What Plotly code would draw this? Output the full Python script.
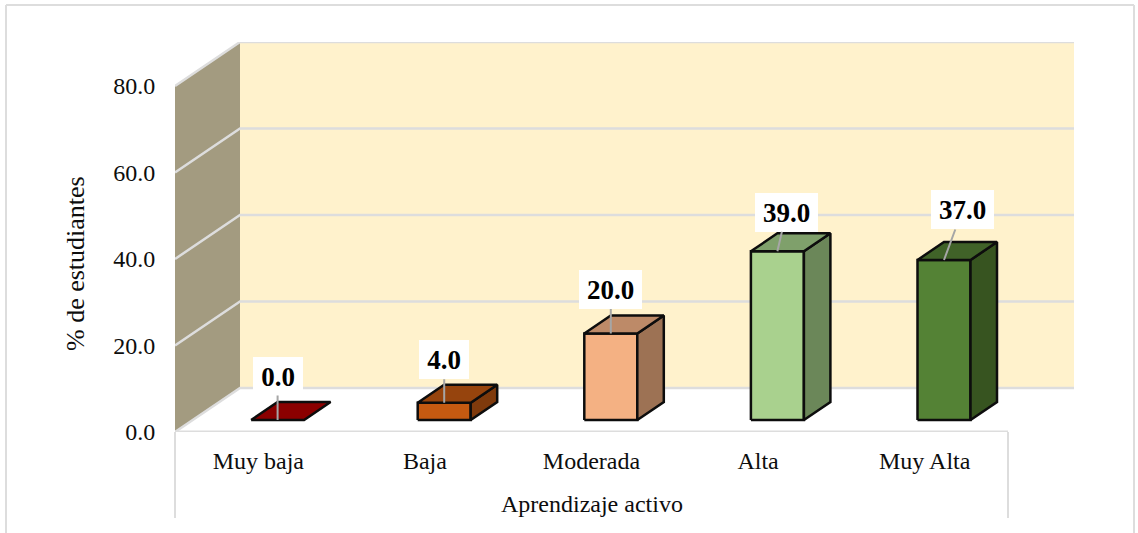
import plotly.graph_objects as go

categories = ["Muy baja", "Baja", "Moderada", "Alta", "Muy Alta"]
values = [0.0, 4.0, 20.0, 39.0, 37.0]
y_ticks = [0, 20, 40, 60, 80]
y_tick_labels = ["0.0", "20.0", "40.0", "60.0", "80.0"]

front_colors = ["#8B0000", "#C55A11", "#F4B183", "#A9D18E", "#548235"]
top_colors = ["#8B0000", "#96440D", "#BD8A68", "#7FA06B", "#406228"]
side_colors = ["#6B0000", "#7F3A0C", "#9D7254", "#6B8759", "#375420"]

label_offsets = [(0, -44), (0, -43), (0, -44), (9, -39), (18.5, -50)]

FIG_W, FIG_H = 1138, 533
LEFT, RIGHT, TOP, FLOOR = 175, 1074, 42, 432
CAT_PX = 166.6
VAL_PX = 4.325
WALL_DX, WALL_DY = 65, 44
BAR_W = 53
BAR_DX, BAR_DY = 26.5, 18
BAR_SHIFT_X, BAR_SHIFT_Y = 19.3, 12
INK = "#0D0D0D"
GRID = "#DDDDDD"
TEXT = "#0D0D0D"
SERIF = "Liberation Serif"


def px(dx):
    return dx / CAT_PX


def vu(dy):
    return dy / VAL_PX


def poly(xs, ys, fill, line=None, width=0):
    return go.Scatter(
        x=xs + xs[:1], y=ys + ys[:1], mode="lines", fill="toself", fillcolor=fill,
        line=dict(color=line or fill, width=width), hoverinfo="skip",
        showlegend=False, cliponaxis=False,
    )


def seg(xs, ys, color=GRID, width=2.5):
    return go.Scatter(
        x=xs, y=ys, mode="lines", line=dict(color=color, width=width),
        hoverinfo="skip", showlegend=False, cliponaxis=False,
    )


n = len(categories)
wall_x, wall_y = px(WALL_DX), vu(WALL_DY)
top_val = y_ticks[-1]
x_end = (RIGHT - LEFT) / CAT_PX
fig = go.Figure()

# side wall and back wall
fig.add_trace(poly([0, wall_x, wall_x, 0], [0, wall_y, top_val + wall_y, top_val], "#A39B80"))
fig.add_trace(poly([wall_x, x_end, x_end, wall_x],
                   [wall_y, wall_y, top_val + wall_y, top_val + wall_y], "#FFF2CC"))
# gridlines on both walls, floor edges
for t in y_ticks:
    fig.add_trace(seg([0, wall_x, x_end], [t, t + wall_y, t + wall_y]))
fig.add_trace(seg([0, n], [0, 0], width=3))

# bars
sx, sy = px(BAR_SHIFT_X), vu(BAR_SHIFT_Y)
bw, bdx, bdy = px(BAR_W), px(BAR_DX), vu(BAR_DY)
anchors = []
for i, v in enumerate(values):
    cx = i + 0.5 + sx
    x0, x1 = cx - bw / 2, cx + bw / 2
    y0, y1 = sy, sy + v
    if v > 0:
        fig.add_trace(poly([x0, x1, x1, x0], [y0, y0, y1, y1], front_colors[i], INK, 2.5))
        fig.add_trace(poly([x1, x1 + bdx, x1 + bdx, x1], [y0, y0 + bdy, y1 + bdy, y1],
                           side_colors[i], INK, 2.5))
    fig.add_trace(poly([x0, x1, x1 + bdx, x0 + bdx], [y1, y1, y1 + bdy, y1 + bdy],
                       top_colors[i], INK, 2.5))
    anchors.append((cx, y1))


def pxp(x):
    return (x - LEFT) / (RIGHT - LEFT)


def pyp(y):
    return (FLOOR - y) / (FLOOR - TOP)


annotations = []
for (cx, y1), v, (ax, ay) in zip(anchors, values, label_offsets):
    annotations.append(dict(
        x=cx, y=y1, xref="x", yref="y", text=f"<b>{v:.1f}</b>", showarrow=True,
        arrowhead=0, arrowcolor="#A6A6A6", arrowwidth=2, ax=ax, ay=ay, standoff=0,
        width=63 if v >= 10 else 50, height=39, bgcolor="#FFFFFF", borderpad=0, borderwidth=0,
        font=dict(family=SERIF, size=27, color="#000000"),
    ))
annotations.append(dict(x=n / 2, xref="x", y=pyp(504), yref="paper", text="Aprendizaje activo",
                        showarrow=False, xanchor="center", yanchor="middle",
                        font=dict(family=SERIF, size=24, color=TEXT)))
annotations.append(dict(x=pxp(75), xref="paper", y=pyp(264), yref="paper",
                        text="% de estudiantes", textangle=-90, showarrow=False,
                        xanchor="center", yanchor="middle",
                        font=dict(family=SERIF, size=26, color=TEXT)))


def line_shape(x0, y0, x1, y1):
    return dict(type="line", xref="paper", yref="paper", x0=pxp(x0), y0=pyp(y0),
                x1=pxp(x1), y1=pyp(y1), line=dict(color=GRID, width=2), layer="below")


shapes = [
    line_shape(LEFT, FLOOR, LEFT, 518),
    line_shape(LEFT + n * CAT_PX, FLOOR, LEFT + n * CAT_PX, 518),
    line_shape(6, 5, 1134, 5),
    line_shape(6, 5, 6, FIG_H),
    line_shape(1134, 5, 1134, FIG_H),
]

fig.update_layout(
    width=FIG_W, height=FIG_H,
    margin=dict(l=LEFT, r=FIG_W - RIGHT, t=TOP, b=FIG_H - FLOOR, pad=0),
    paper_bgcolor="#FFFFFF", plot_bgcolor="rgba(0,0,0,0)",
    showlegend=False, annotations=annotations, shapes=shapes,
    xaxis=dict(
        range=[0, x_end], tickmode="array", tickvals=[i + 0.5 for i in range(n)],
        ticktext=categories, ticks="outside", ticklen=7, tickcolor="rgba(0,0,0,0)",
        showgrid=False, zeroline=False, showline=False, fixedrange=True,
        tickfont=dict(family=SERIF, size=24, color=TEXT),
    ),
    yaxis=dict(
        range=[0, top_val + wall_y], tickmode="array", tickvals=y_ticks,
        ticktext=y_tick_labels, ticks="outside", ticklen=14, tickcolor="rgba(0,0,0,0)",
        showgrid=False, zeroline=False, showline=False, fixedrange=True,
        tickfont=dict(family=SERIF, size=24, color=TEXT),
    ),
)

fig.write_html("out.html", post_script="document.body.style.margin='0';",
               config={"displayModeBar": False})
